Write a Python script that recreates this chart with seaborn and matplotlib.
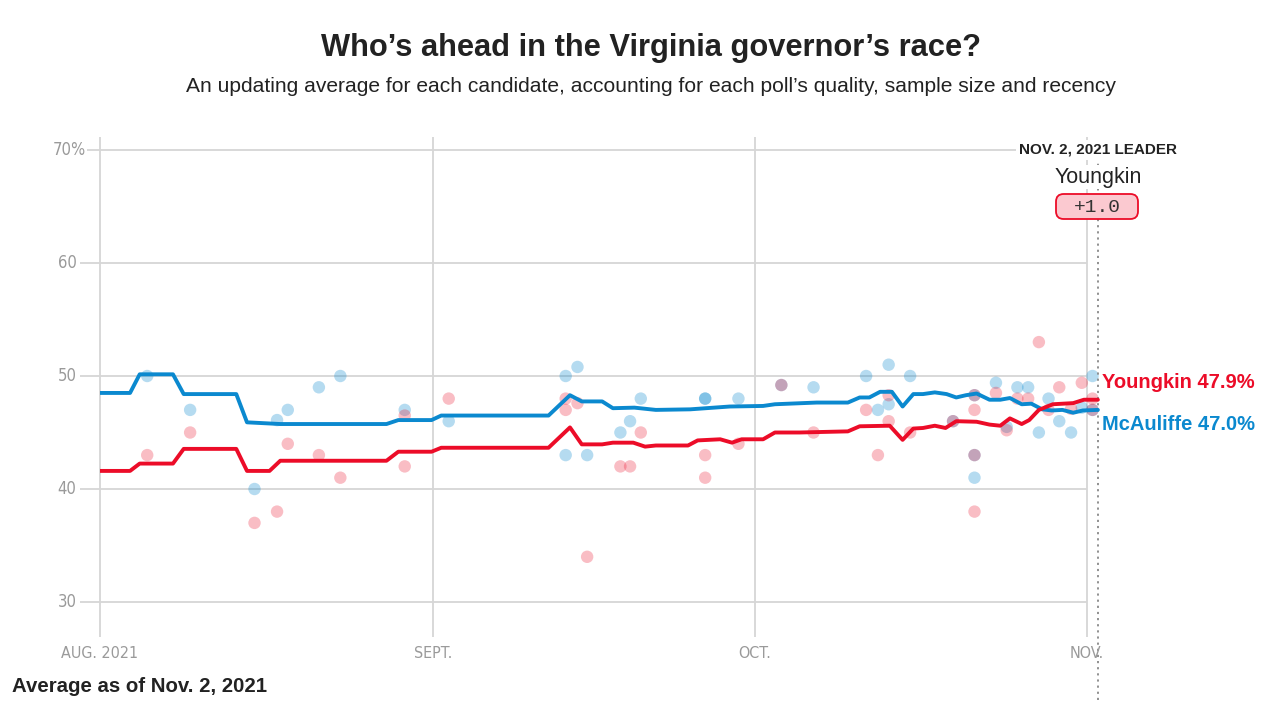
import numpy as np
import pandas as pd
import matplotlib
matplotlib.use("Agg")
import matplotlib.pyplot as plt
from matplotlib.patches import FancyBboxPatch
import seaborn as sns

# ---------------- data (x = days since Aug. 1, 2021) ----------------
mca_days = [0, 2.8, 3.7, 6.8, 7.8, 12.7, 13.7, 16.8, 26.7, 27.8, 30.9, 31.8, 41.8, 43.8,
            44.9, 46.8, 47.8, 49.8, 51.8, 55.0, 58.7, 61.8, 62.9, 65.5, 66.8, 69.7, 70.8,
            71.7, 72.7, 73.8, 74.8, 75.8, 76.7, 77.8, 78.9, 79.8, 80.7, 81.7, 82.9, 83.9,
            84.8, 85.9, 86.8, 87.8, 88.7, 89.7, 90.7, 91.6, 93.0]
mca_vals = [48.5, 48.5, 50.15, 50.15, 48.4, 48.4, 45.9, 45.75, 45.75, 46.1, 46.1, 46.5, 46.5,
            48.3, 47.75, 47.75, 47.15, 47.2, 47.0, 47.05, 47.3, 47.35, 47.5, 47.6, 47.65, 47.65,
            48.1, 48.1, 48.6, 48.6, 47.3, 48.4, 48.4, 48.55, 48.4, 48.1, 48.3, 48.45, 47.9,
            47.9, 48.05, 47.5, 47.55, 47.05, 46.95, 47.0, 46.75, 46.95, 47.0]

ygk_days = [0, 2.8, 3.7, 6.8, 7.8, 12.7, 13.7, 15.8, 16.8, 26.7, 27.8, 30.9, 31.8, 41.8,
            43.8, 44.9, 46.8, 47.8, 49.7, 50.8, 51.8, 54.8, 55.7, 57.8, 58.9, 59.8, 61.8,
            62.9, 65.2, 69.7, 70.8, 73.6, 74.8, 75.8, 76.7, 77.8, 78.8, 79.8, 81.7, 82.9,
            83.9, 84.8, 85.9, 86.6, 87.5, 88.8, 90.7, 91.7, 93.0]
ygk_vals = [41.6, 41.6, 42.25, 42.25, 43.55, 43.55, 41.6, 41.6, 42.5, 42.5, 43.3, 43.3, 43.65,
            43.65, 45.45, 43.95, 43.95, 44.1, 44.1, 43.75, 43.85, 43.85, 44.3, 44.4, 44.1, 44.4,
            44.4, 45.0, 45.0, 45.1, 45.55, 45.6, 44.35, 45.35, 45.4, 45.6, 45.4, 46.0, 45.95,
            45.7, 45.6, 46.25, 45.75, 46.1, 47.0, 47.5, 47.6, 47.9, 47.9]

mca_poll_days = [4.4, 8.4, 14.4, 16.5, 17.5, 20.4, 22.4, 28.4, 32.5, 43.4, 44.5, 43.4, 45.4,
                 48.5, 49.4, 50.4, 56.4, 56.4, 59.5, 63.5, 66.5, 71.4, 73.5, 75.5, 72.5, 73.5,
                 79.5, 81.5, 81.5, 81.5, 83.5, 84.5, 85.5, 86.5, 87.5, 88.4, 89.4, 90.5, 91.5,
                 92.5, 92.5]
mca_poll_vals = [50.0, 47.0, 40.0, 46.1, 47.0, 49.0, 50.0, 47.0, 46.0, 50.0, 50.8, 43.0, 43.0,
                 45.0, 46.0, 48.0, 48.0, 48.0, 48.0, 49.2, 49.0, 50.0, 51.0, 50.0, 47.0, 47.5,
                 46.0, 48.3, 43.0, 41.0, 49.4, 45.5, 49.0, 49.0, 45.0, 48.0, 46.0, 45.0, 47.2,
                 50.0, 47.0]

ygk_poll_days = [4.4, 8.4, 14.4, 16.5, 17.5, 20.4, 22.4, 28.4, 28.4, 32.5, 43.4, 43.4, 44.5,
                 45.4, 48.5, 49.4, 50.4, 56.4, 56.4, 59.5, 63.5, 66.5, 71.4, 72.5, 73.5, 73.5,
                 75.5, 79.5, 81.5, 81.5, 81.5, 81.5, 83.5, 84.5, 85.5, 86.5, 87.5, 88.4, 89.4,
                 90.5, 91.5, 92.5, 92.5]
ygk_poll_vals = [43.0, 45.0, 37.0, 38.0, 44.0, 43.0, 41.0, 42.0, 46.5, 48.0, 48.0, 47.0, 47.6,
                 34.0, 42.0, 42.0, 45.0, 43.0, 41.0, 44.0, 49.2, 45.0, 47.0, 43.0, 48.3, 46.0,
                 45.0, 46.0, 48.3, 43.0, 47.0, 38.0, 48.5, 45.2, 48.0, 48.0, 53.0, 47.0, 49.0,
                 47.1, 49.4, 48.0, 47.0]

month_days = [0, 31, 61, 92]
month_labels = ["AUG. 2021", "SEPT.", "OCT.", "NOV."]
y_ticks = [30, 40, 50, 60, 70]
y_labels = ["30", "40", "50", "60", "70%"]

leader_day = 93
leader_name = "Youngkin"
leader_margin = "+1.0"
ygk_final = 47.9
mca_final = 47.0

# ---------------- style ----------------
RED = "#ec0c28"
BLUE = "#0b89cf"
GRID = "#d6d6d6"
TICK = "#9a9a9a"
DARK = "#222222"
SANS = ["Liberation Sans", "DejaVu Sans"]

sns.set_theme(style="white")
plt.rcParams["font.family"] = SANS

W, H = 1276, 708
fig = plt.figure(figsize=(W / 100, H / 100), dpi=100)
fig.patch.set_facecolor("white")

# axes placement in pixels: x=100 -> day 0, 10.73 px/day; y 50 at px 376, 11.3 px/unit
ax_l, ax_r, ax_t, ax_b = 100, 1100, 138, 640
ax = fig.add_axes([ax_l / W, (H - ax_b) / H, (ax_r - ax_l) / W, (ax_b - ax_t) / H])
ppd = 10.73
ppu = 11.3
ax.set_xlim(0, (ax_r - ax_l) / ppd)
ax.set_ylim(50 - (ax_b - 376) / ppu, 50 + (376 - ax_t) / ppu)
for s in ax.spines.values():
    s.set_visible(False)
ax.set_xticks([])
ax.set_yticks([])


def px2y(py):
    return 50 + (376 - py) / ppu


# gridlines
for yv in y_ticks:
    x0 = -1.2 if yv == 70 else -1.9
    ax.hlines(yv, x0, 92, color=GRID, lw=1.3, zorder=0, clip_on=False)
for md in month_days:
    ax.vlines(md, px2y(637), px2y(137), color=GRID, lw=1.3, zorder=0, clip_on=False)

# poll dots
mca_polls = pd.DataFrame({"day": mca_poll_days, "pct": mca_poll_vals})
ygk_polls = pd.DataFrame({"day": ygk_poll_days, "pct": ygk_poll_vals})
sns.scatterplot(data=mca_polls, x="day", y="pct", color=BLUE, alpha=0.3, s=80,
                edgecolor="none", ax=ax, zorder=2)
sns.scatterplot(data=ygk_polls, x="day", y="pct", color=RED, alpha=0.27, s=80,
                edgecolor="none", ax=ax, zorder=2)

# averages
mca = pd.DataFrame({"day": mca_days, "pct": mca_vals})
ygk = pd.DataFrame({"day": ygk_days, "pct": ygk_vals})
sns.lineplot(data=mca, x="day", y="pct", color=BLUE, lw=2.8, ax=ax, zorder=4)
sns.lineplot(data=ygk, x="day", y="pct", color=RED, lw=2.8, ax=ax, zorder=5)
ax.set_xlabel("")
ax.set_ylabel("")

# leader dotted line
ax.vlines(leader_day, px2y(700), px2y(160), color="#888888",
          lw=1.3, linestyles=(0, (1.2, 2.2)), zorder=3, clip_on=False)

# y tick labels
for yv, lab in zip(y_ticks, y_labels):
    xr = -1.3 if yv == 70 else -2.2
    ax.text(xr, yv, lab, ha="right", va="center", fontsize=12, color=TICK,
            family=["DejaVu Sans"], fontstretch="condensed", clip_on=False)

# x tick labels
for md, lab in zip(month_days, month_labels):
    ax.text(md, px2y(654), lab, ha="center", va="center", fontsize=11.5,
            color=TICK, family=["DejaVu Sans"], fontstretch="condensed", clip_on=False)

# end labels
ax.text(93.35, px2y(382), f"Youngkin {ygk_final:.1f}%", ha="left", va="center",
        fontsize=14.5, fontweight="bold", color=RED, clip_on=False)
ax.text(93.35, px2y(424), f"McAuliffe {mca_final:.1f}%", ha="left", va="center",
        fontsize=14.5, fontweight="bold", color=BLUE, clip_on=False)

# leader annotation
ax.text(leader_day, px2y(150), "NOV. 2, 2021 LEADER", ha="center", va="center",
        fontsize=11, fontweight="bold", color=DARK, zorder=6, clip_on=False,
        bbox=dict(facecolor="white", edgecolor="none", pad=2))
ax.text(leader_day, px2y(177), leader_name, ha="center", va="center", fontsize=15.5,
        color=DARK, zorder=6, clip_on=False,
        bbox=dict(facecolor="white", edgecolor="none", pad=1))
box = FancyBboxPatch((1056 / W, 1 - 219 / H), 82 / W, 25 / H,
                     boxstyle="round,pad=0,rounding_size=0.006",
                     transform=fig.transFigure, facecolor="#fbc9d0", edgecolor=RED,
                     lw=1.3, zorder=6, mutation_aspect=W / H)
fig.patches.append(box)
fig.text(1097 / W, 1 - 207 / H, leader_margin, ha="center", va="center", fontsize=14,
         color="#333333", family=["Liberation Mono", "DejaVu Sans Mono"], zorder=7)

# titles
fig.text(651 / W, 1 - 48 / H, "Who\u2019s ahead in the Virginia governor\u2019s race?",
         ha="center", va="center", fontsize=22.2, fontweight="bold", color=DARK)
fig.text(651 / W, 1 - 87 / H,
         "An updating average for each candidate, accounting for each poll\u2019s quality, sample size and recency",
         ha="center", va="center", fontsize=15.1, color=DARK)
fig.text(12 / W, 1 - 686 / H, "Average as of Nov. 2, 2021", ha="left", va="center",
         fontsize=14.7, fontweight="bold", color=DARK)

fig.savefig("out.png", dpi=100, facecolor="white")
